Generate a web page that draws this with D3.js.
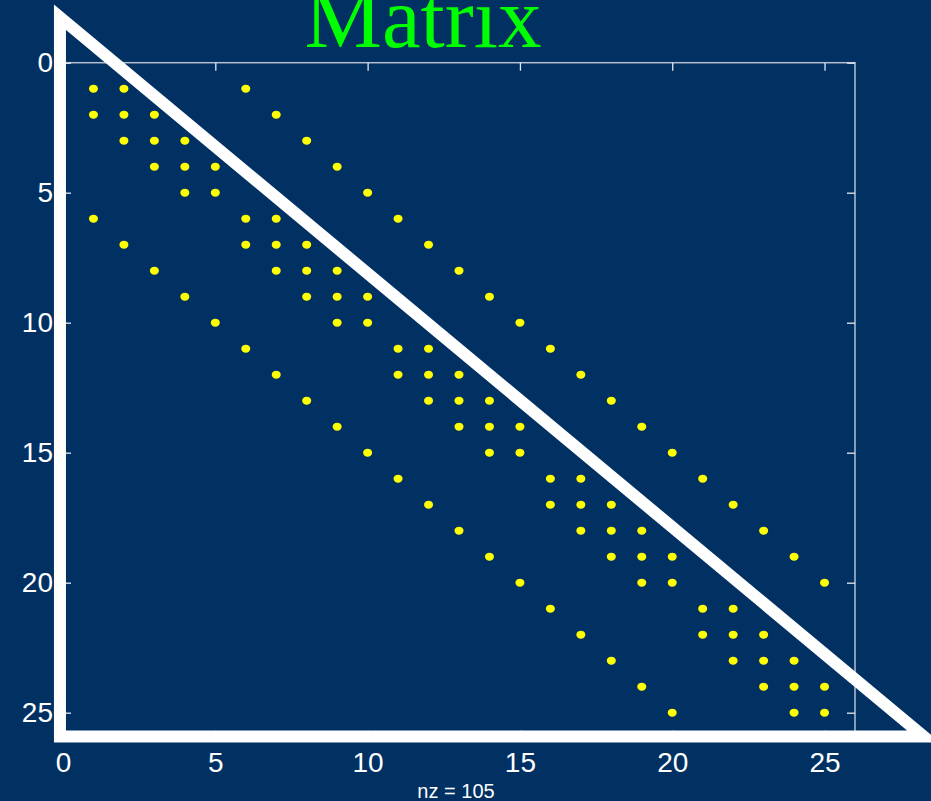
<!DOCTYPE html>
<html>
<head>
<meta charset="utf-8">
<script src="https://cdn.jsdelivr.net/npm/d3@7"></script>
<style>
  html, body { margin: 0; padding: 0; background: #003162; }
  svg { display: block; }
</style>
</head>
<body>
<div id="chart"></div>
<script>
// sparsity pattern: for each row (1..25), the columns holding a nonzero
var rowCols = [
  [1, 2, 6],
  [1, 2, 3, 7],
  [2, 3, 4, 8],
  [3, 4, 5, 9],
  [4, 5, 10],
  [1, 6, 7, 11],
  [2, 6, 7, 8, 12],
  [3, 7, 8, 9, 13],
  [4, 8, 9, 10, 14],
  [5, 9, 10, 15],
  [6, 11, 12, 16],
  [7, 11, 12, 13, 17],
  [8, 12, 13, 14, 18],
  [9, 13, 14, 15, 19],
  [10, 14, 15, 20],
  [11, 16, 17, 21],
  [12, 16, 17, 18, 22],
  [13, 17, 18, 19, 23],
  [14, 18, 19, 20, 24],
  [15, 19, 20, 25],
  [16, 21, 22],
  [17, 21, 22, 23],
  [18, 22, 23, 24],
  [19, 23, 24, 25],
  [20, 24, 25]
];
var xTicks = [0, 5, 10, 15, 20, 25];
var yTicks = [0, 5, 10, 15, 20, 25];
var titleText = "Matrix";
var xLabelText = "nz = 105";

// the white triangle drawn over the plot, in data units
var triX = [-0.1, -0.1, 28.26];
var triY = [-1.75, 25.92, 25.92];

var W = 931, H = 801;

var svg = d3.select("#chart").append("svg")
  .attr("width", W)
  .attr("height", H);

svg.append("rect")
  .attr("width", W)
  .attr("height", H)
  .attr("fill", "#003162");

var x = d3.scaleLinear().domain([0, 26]).range([63, 855]);
var y = d3.scaleLinear().domain([0, 26]).range([62.7, 738.7]);

// box
svg.append("rect")
  .attr("x", x(0))
  .attr("y", y(0))
  .attr("width", x(26) - x(0))
  .attr("height", y(26) - y(0))
  .attr("fill", "none")
  .attr("stroke", "#b4bfd0")
  .attr("stroke-width", 1.5);

function styleAxis(g){
  g.select(".domain").remove();
  g.selectAll(".tick line").attr("stroke", "#e6e9ef").attr("stroke-width", 1.3);
  g.selectAll("text")
    .attr("fill", "#ffffff")
    .style("font-family", "'Liberation Sans', Arial, sans-serif")
    .style("font-size", "28px");
}

// top and right: ticks only
svg.append("g")
  .attr("transform", "translate(0," + y(0) + ")")
  .call(d3.axisTop(x).tickValues(xTicks).tickSize(-8).tickFormat(""))
  .call(styleAxis);

svg.append("g")
  .attr("transform", "translate(" + x(26) + ",0)")
  .call(d3.axisRight(y).tickValues(yTicks).tickSize(-8).tickFormat(""))
  .call(styleAxis);

// left and bottom: ticks with labels
svg.append("g")
  .attr("transform", "translate(" + x(0) + ",0)")
  .call(d3.axisLeft(y).tickValues(yTicks).tickSize(-8).tickPadding(10))
  .call(styleAxis);

svg.append("g")
  .attr("transform", "translate(0," + y(26) + ")")
  .call(d3.axisBottom(x).tickValues(xTicks).tickSize(-8).tickPadding(13))
  .call(styleAxis);

// nonzeros
var pts = [];
rowCols.forEach(function(cols, i){
  cols.forEach(function(c){
    pts.push({r: i + 1, c: c});
  });
});

svg.append("g").selectAll("ellipse")
  .data(pts)
  .enter().append("ellipse")
  .attr("cx", function(d){ return x(d.c); })
  .attr("cy", function(d){ return y(d.r); })
  .attr("rx", 4.5)
  .attr("ry", 4)
  .attr("fill", "#ffff00");

// triangle
var tri = triX.map(function(v, i){ return [x(v), y(triY[i])]; });
svg.append("path")
  .attr("d", d3.line()(tri) + "Z")
  .attr("fill", "none")
  .attr("stroke", "#ffffff")
  .attr("stroke-width", 12)
  .attr("stroke-linejoin", "miter");

svg.append("text")
  .attr("x", 456)
  .attr("y", 798)
  .attr("text-anchor", "middle")
  .attr("fill", "#ffffff")
  .style("font-family", "'Liberation Sans', Arial, sans-serif")
  .style("font-size", "20px")
  .text(xLabelText);

// title sits partly above the top edge, as in the original slide
svg.append("text")
  .attr("x", 423)
  .attr("y", 47)
  .attr("text-anchor", "middle")
  .attr("fill", "#00ff00")
  .style("font-family", "'Liberation Serif', 'Times New Roman', serif")
  .style("font-size", "87px")
  .text(titleText);
</script>
</body>
</html>
